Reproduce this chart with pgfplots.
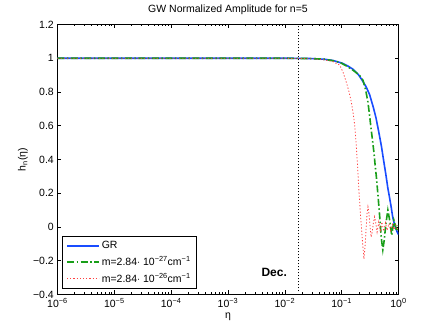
\documentclass[border=0pt]{standalone}
\usepackage{fontspec}
\setmainfont{Liberation Sans}
\usepackage{pgfplots}
\pgfplotsset{compat=1.18}

\definecolor{mblue}{rgb}{0.1,0.3,1}
\definecolor{mgreen}{rgb}{0.1,0.62,0.1}
\definecolor{mred}{rgb}{1,0.25,0.25}

\begin{document}
\fontsize{10.5bp}{12bp}\selectfont
\begin{tikzpicture}
  \begin{axis}[
      name=ax,
      scale only axis,
      width=341bp, height=270bp,
      xmode=log,
      xmin=1e-6, xmax=1,
      ymin=-0.4, ymax=1.2,
      xtick={1e-6,1e-5,1e-4,1e-3,1e-2,1e-1,1},
      xticklabels={10\textsuperscript{−6},10\textsuperscript{−5},10\textsuperscript{−4},
        10\textsuperscript{−3},10\textsuperscript{−2},10\textsuperscript{−1},10\textsuperscript{0}},
      ytick={-0.4,-0.2,0,0.2,0.4,0.6,0.8,1,1.2},
      yticklabels={−0.4,−0.2,0,0.2,0.4,0.6,0.8,1,1.2},
      tick align=inside,
      major tick length=4bp,
      minor tick length=2bp,
      tick style={black, line width=0.5bp},
      axis line style={line width=0.6bp},
      title={GW Normalized Amplitude for n=5},
      xlabel={η},
      ylabel={h\textsubscript{n}(η)},
      xlabel style={yshift=2bp},
      ylabel style={yshift=-2bp},
      legend cell align=left,
      legend style={at={(0.013,0.02)}, anchor=south west,
        draw=black, line width=0.6bp, fill=white,
        font=\fontsize{10.5bp}{12bp}\selectfont,
        row sep=2bp, inner xsep=4bp, inner ysep=3bp},
      legend image code/.code={\draw[#1] plot coordinates {(0bp,0bp) (32bp,0bp)};},
    ]
    % GR
    \addplot[mblue, line width=1.6bp] coordinates {
      (1e-6,1) (1e-3,1) (0.01,0.9999) (0.02,0.9995) (0.03,0.998) (0.05,0.994)
      (0.07,0.987) (0.1,0.972) (0.13,0.953) (0.158,0.935) (0.2,0.9) (0.234,0.865)
      (0.27,0.83) (0.31,0.785) (0.36,0.71) (0.4,0.65) (0.44,0.58) (0.5,0.48)
      (0.55,0.39) (0.6,0.31) (0.65,0.23) (0.7,0.17) (0.75,0.11) (0.79,0.06)
      (0.85,0.015) (0.9,-0.01) (0.95,-0.03) (1.0,-0.045)
    };
    \addlegendentry{GR}

    % m = 2.84e-27
    \addplot[mgreen, line width=1.6bp, dash pattern=on 7bp off 2.5bp on 1.5bp off 2.5bp] coordinates {
      (1e-6,1) (1e-3,1) (0.01,0.9999) (0.03,0.998) (0.05,0.994) (0.08,0.982)
      (0.1,0.97) (0.123,0.953) (0.15,0.935) (0.18,0.915) (0.21,0.895) (0.237,0.87)
      (0.265,0.81) (0.29,0.74) (0.31,0.66) (0.33,0.58) (0.35,0.51) (0.37,0.44)
      (0.39,0.36) (0.41,0.29) (0.44,0.17) (0.47,0.05) (0.5,-0.07) (0.53,-0.135)
      (0.56,-0.08) (0.6,0.02) (0.65,0.1) (0.7,0.04) (0.76,-0.05) (0.8,0.0)
      (0.83,0.04) (0.88,0.01) (0.93,-0.025) (0.97,0.0) (1.0,0.01)
    };
    \addlegendentry{m=2.84$\cdot$ 10\textsuperscript{−27}cm\textsuperscript{−1}}

    % m = 2.84e-26
    \addplot[mred, line width=0.8bp, dash pattern=on 1.2bp off 2bp] coordinates {
      (1e-6,1) (1e-3,1) (0.01,0.9995) (0.03,0.997) (0.05,0.99) (0.07,0.98)
      (0.092,0.96) (0.105,0.92) (0.121,0.857) (0.135,0.8) (0.148,0.74) (0.16,0.67)
      (0.17,0.6) (0.18,0.49) (0.19,0.37) (0.2,0.23) (0.21,0.12) (0.22,0.02)
      (0.235,-0.11) (0.247,-0.19) (0.26,-0.1) (0.27,0.0) (0.28,0.08) (0.29,0.12)
      (0.30,0.09) (0.315,0.01) (0.33,-0.06) (0.345,-0.03) (0.36,0.02) (0.38,0.06)
      (0.40,0.02) (0.42,-0.03) (0.45,0.03) (0.48,-0.03) (0.51,0.03) (0.55,-0.025)
      (0.59,0.025) (0.63,-0.02) (0.68,0.02) (0.73,-0.02) (0.78,0.015) (0.84,-0.015)
      (0.9,0.01) (0.95,-0.01) (1.0,0.0)
    };
    \addlegendentry{m=2.84$\cdot$ 10\textsuperscript{−26}cm\textsuperscript{−1}}

    % decoupling
    \addplot[black, line width=0.9bp, dash pattern=on 1bp off 2bp, forget plot]
      coordinates {(0.0172,-0.4) (0.0172,1.2)};
    \node[font=\fontsize{12bp}{14bp}\selectfont\bfseries] at (axis cs:0.0065,-0.267) {Dec.};
  \end{axis}
  \pgfresetboundingbox
  \path ([shift={(-57.5bp,-36.5bp)}]ax.south west) rectangle ++(440bp,331bp);
\end{tikzpicture}
\end{document}
